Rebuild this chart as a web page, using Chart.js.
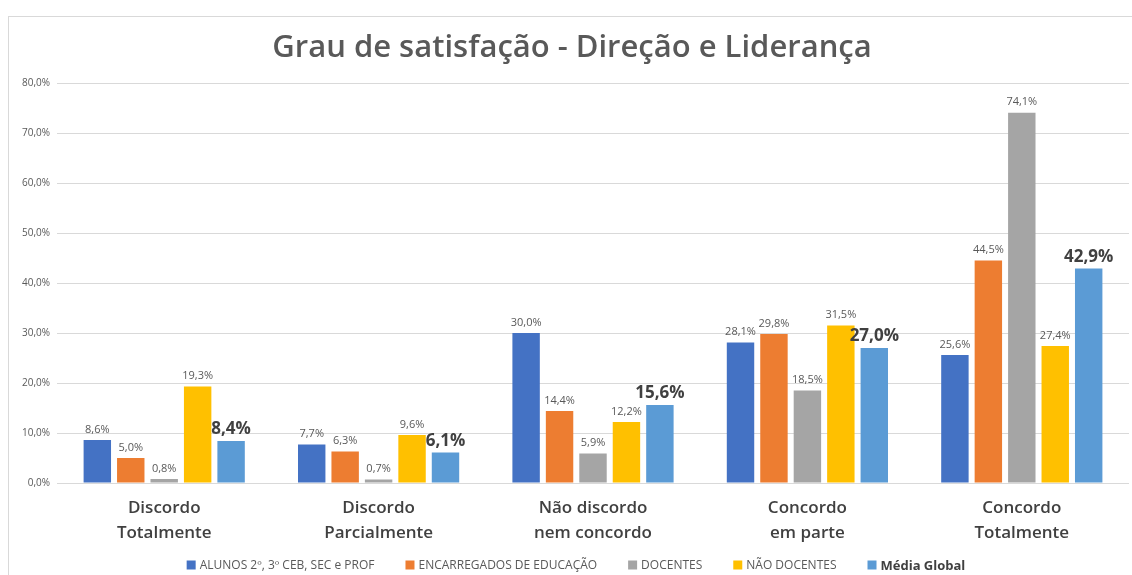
<!DOCTYPE html>
<html>
<head>
<meta charset="utf-8">
<script src="https://cdn.jsdelivr.net/npm/chart.js@4/dist/chart.umd.min.js"></script>
<style>
  html, body { margin: 0; padding: 0; background: #fff; }
  #wrap { width: 1132px; height: 575px; }
</style>
</head>
<body>
<div id="wrap"><canvas id="chart" width="1132" height="575"></canvas></div>
<script>
const categories = [
    ['Discordo', 'Totalmente'],
    ['Discordo', 'Parcialmente'],
    ['Não discordo', 'nem concordo'],
    ['Concordo', 'em parte'],
    ['Concordo', 'Totalmente']
];
const seriesNames = ['ALUNOS 2º, 3º CEB, SEC e PROF', 'ENCARREGADOS DE EDUCAÇÃO', 'DOCENTES', 'NÃO DOCENTES', 'Média Global'];
const alunos = [8.6, 7.7, 30.0, 28.1, 25.6];
const encarregados = [5.0, 6.3, 14.4, 29.8, 44.5];
const docentes = [0.8, 0.7, 5.9, 18.5, 74.1];
const naoDocentes = [19.3, 9.6, 12.2, 31.5, 27.4];
const mediaGlobal = [8.4, 6.1, 15.6, 27.0, 42.9];
const colors = ['#4472C4', '#ED7D31', '#A5A5A5', '#FFC000', '#5B9BD5'];
const yTicks = [0, 10, 20, 30, 40, 50, 60, 70, 80];

const fmt = v => v.toFixed(1).replace('.', ',') + '%';
const FONT = "'Open Sans', 'Noto Sans', sans-serif";

// labels above bars
const barLabels = {
    id: 'barLabels',
    afterDatasetsDraw(chart) {
        const ctx = chart.ctx;
        ctx.save();
        ctx.textAlign = 'center';
        ctx.textBaseline = 'bottom';
        chart.data.datasets.forEach((ds, i) => {
            const meta = chart.getDatasetMeta(i);
            const isGlobal = i === 4;
            ctx.font = isGlobal ? `bold 17px ${FONT}` : `11px ${FONT}`;
            ctx.fillStyle = isGlobal ? '#404040' : '#595959';
            meta.data.forEach((bar, j) => {
                ctx.fillText(fmt(ds.data[j]), bar.x, bar.y - (isGlobal ? 3 : 5));
            });
        });
        ctx.restore();
    }
};

// frame + legend drawn by hand so "Média Global" can be bold
const frameLegend = {
    id: 'frameLegend',
    beforeDraw(chart) {
        const ctx = chart.ctx;
        ctx.save();
        ctx.strokeStyle = '#d9d9d9';
        ctx.lineWidth = 1;
        ctx.strokeRect(8.5, 16.5, 2000, 2000);
        ctx.restore();
    },
    afterDraw(chart) {
        const ctx = chart.ctx;
        ctx.save();
        const box = 9, gap = 4, spacing = 31;
        const fonts = seriesNames.map((n, i) => i === 4 ? `bold 13px ${FONT}` : `12px ${FONT}`);
        const widths = seriesNames.map((n, i) => { ctx.font = fonts[i]; return box + gap + ctx.measureText(n).width; });
        const total = widths.reduce((a, b) => a + b, 0) + spacing * (widths.length - 1);
        let x = 576 - total / 2;
        const y = 565;
        ctx.textBaseline = 'middle';
        seriesNames.forEach((n, i) => {
            ctx.fillStyle = colors[i];
            ctx.fillRect(x, y - box / 2, box, box);
            ctx.font = fonts[i];
            ctx.fillStyle = i === 4 ? '#404040' : '#595959';
            ctx.fillText(n, x + box + gap, y + 1);
            x += widths[i] + spacing;
        });
        ctx.restore();
    }
};

const data = {
    labels: categories,
    datasets: [alunos, encarregados, docentes, naoDocentes, mediaGlobal].map((d, i) => ({
        label: seriesNames[i],
        data: d,
        backgroundColor: colors[i],
        categoryPercentage: 0.78,
        barPercentage: 0.82
    }))
};

new Chart(document.getElementById('chart'), {
    type: 'bar',
    data: data,
    options: {
        responsive: false,
        animation: false,
        layout: { padding: { left: 15, right: 3, top: 0, bottom: 25 } },
        plugins: {
            legend: { display: false },
            tooltip: { enabled: false },
            title: {
                display: true,
                text: 'Grau de satisfação - Direção e Liderança',
                color: '#595959',
                font: { family: FONT, size: 31, weight: '600' },
                padding: { top: 30, bottom: 16 }
            }
        },
        scales: {
            x: {
                grid: { display: false },
                border: { display: false },
                ticks: {
                    color: '#404040',
                    font: { family: FONT, size: 17, weight: '600', lineHeight: 1.5 },
                    padding: 4,
                    maxRotation: 0
                }
            },
            y: {
                min: 0,
                max: 80,
                afterBuildTicks: axis => { axis.ticks = yTicks.map(v => ({ value: v })); },
                grid: { color: '#d9d9d9', drawTicks: false },
                border: { display: false },
                ticks: {
                    color: '#595959',
                    font: { family: FONT, size: 10 },
                    padding: 7,
                    callback: v => fmt(v)
                }
            }
        }
    },
    plugins: [barLabels, frameLegend]
});
</script>
</body>
</html>
